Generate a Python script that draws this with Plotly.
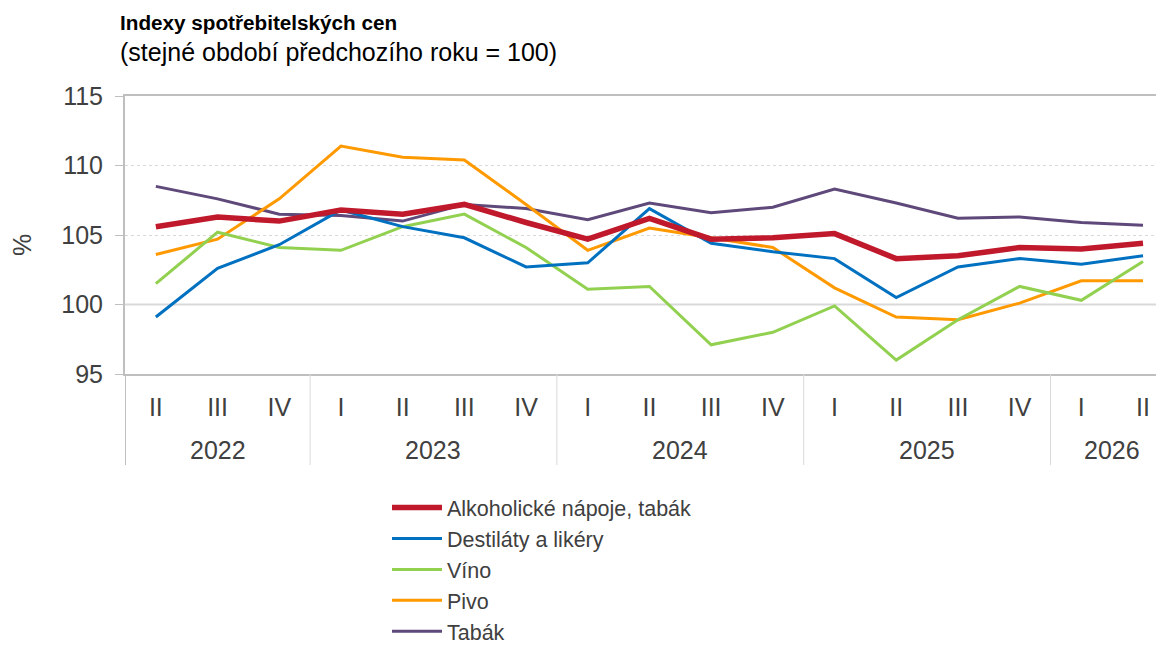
import plotly.graph_objects as go

years = ["2022", "2023", "2024", "2025", "2026"]
quarters = ["II", "III", "IV", "I", "II", "III", "IV", "I", "II", "III", "IV",
            "I", "II", "III", "IV", "I", "II"]
quarter_years = ["2022", "2022", "2022", "2023", "2023", "2023", "2023",
                 "2024", "2024", "2024", "2024", "2025", "2025", "2025", "2025",
                 "2026", "2026"]
categories = [f"{q} {y}" for q, y in zip(quarters, quarter_years)]

alkohol = [105.6, 106.3, 106.0, 106.8, 106.5, 107.2, 105.9, 104.7, 106.2, 104.7,
           104.8, 105.1, 103.3, 103.5, 104.1, 104.0, 104.4]
destilaty = [99.1, 102.6, 104.3, 106.8, 105.6, 104.8, 102.7, 103.0, 106.9, 104.4,
             103.8, 103.3, 100.5, 102.7, 103.3, 102.9, 103.5]
vino = [101.5, 105.2, 104.1, 103.9, 105.6, 106.5, 104.1, 101.1, 101.3, 97.1,
        98.0, 99.9, 96.0, 98.9, 101.3, 100.3, 103.1]
pivo = [103.6, 104.7, 107.6, 111.4, 110.6, 110.4, 107.2, 103.9, 105.5, 104.8,
        104.1, 101.2, 99.1, 98.9, 100.1, 101.7, 101.7]
tabak = [108.5, 107.6, 106.5, 106.4, 106.0, 107.2, 106.9, 106.1, 107.3, 106.6,
         107.0, 108.3, 107.3, 106.2, 106.3, 105.9, 105.7]

series = [
    ("Alkoholické nápoje, tabák", alkohol, "#C0192B", 5.5),
    ("Destiláty a likéry", destilaty, "#0070C0", 3),
    ("Víno", vino, "#92D050", 3),
    ("Pivo", pivo, "#FF9900", 3),
    ("Tabák", tabak, "#5F497A", 3),
]

FONT = "Liberation Sans, Arial, sans-serif"
GRID = "#D9D9D9"
AXIS = "#BFBFBF"
TXT = "#404040"
FS = 25

# the page body adds an 8px offset; work in screen pixels and convert
OFF = 8
L, R, T, B = 125 - OFF, 1164 - OFF, 96 - OFF, 374 - OFF
def px(xs):
    return (xs - OFF - L) / (R - L)
def py(ys):
    return (B - (ys - OFF)) / (B - T)

fig = go.Figure()
for name, vals, color, w in series[::-1]:
    fig.add_trace(go.Scatter(x=categories, y=vals, name=name, mode="lines",
                             line=dict(color=color, width=w)))

fig.update_layout(
    width=1164, height=648,
    margin=dict(l=L, r=1164 - R, t=T, b=648 - B, autoexpand=False),
    paper_bgcolor="white", plot_bgcolor="white",
    font=dict(family=FONT, size=FS, color=TXT),
    showlegend=True,
    legend=dict(x=px(387), y=py(487), xanchor="left", yanchor="top",
                traceorder="reversed", font=dict(size=21.5, color=TXT),
                tracegroupgap=0, itemwidth=50, bgcolor="rgba(0,0,0,0)"),
)

fig.update_xaxes(
    type="category", categoryorder="array", categoryarray=categories,
    range=[-0.5, 16.34],
    tickvals=categories, ticktext=quarters,
    ticks="", ticklabelstandoff=10,
    tickfont=dict(size=FS, color=TXT),
    showgrid=False, showline=True, linecolor=AXIS, linewidth=2, mirror=True,
    zeroline=False, automargin=False,
)
fig.update_yaxes(
    range=[95, 115], dtick=5,
    ticks="outside", ticklen=8, tickcolor=AXIS, tickwidth=1,
    ticklabelstandoff=7,
    tickfont=dict(size=FS, color=TXT),
    showgrid=True, gridcolor=GRID, griddash="dot", gridwidth=1,
    showline=True, linecolor=AXIS, linewidth=2,
    zeroline=False, automargin=False,
)

# solid line at 100
fig.add_shape(type="line", xref="paper", yref="y", x0=0, x1=1, y0=100, y1=100,
              line=dict(color=GRID, width=2), layer="below")

# year dividers and labels
bounds = [-0.5, 2.5, 6.5, 10.5, 14.5]
for b in bounds:
    first = b == -0.5
    fig.add_shape(type="line", xref="x", yref="paper", x0=b, x1=b, y0=0, y1=py(465),
                  line=dict(color=AXIS if first else GRID, width=2 if first else 1))
group_ranges = [(0, 2), (3, 6), (7, 10), (11, 14), (15, 16)]
for yr, (a, b) in zip(years, group_ranges):
    fig.add_annotation(x=(a + b) / 2, y=py(450), xref="x", yref="paper",
                       text=yr, showarrow=False, font=dict(size=FS, color=TXT),
                       yanchor="middle")

# y-axis title
fig.add_annotation(x=px(22), y=py(245), xref="paper", yref="paper", text="%",
                   textangle=-90, showarrow=False, font=dict(size=FS, color=TXT),
                   xanchor="center", yanchor="middle")

# titles
fig.add_annotation(x=px(118), y=py(22), xref="paper", yref="paper",
                   text="<b>Indexy spotřebitelských cen</b>", showarrow=False,
                   xanchor="left", yanchor="middle", font=dict(size=20.7, color="black"))
fig.add_annotation(x=px(118), y=py(52), xref="paper", yref="paper",
                   text="(stejné období předchozího roku = 100)", showarrow=False,
                   xanchor="left", yanchor="middle", font=dict(size=25, color="black"))

fig.write_html("out.html")
